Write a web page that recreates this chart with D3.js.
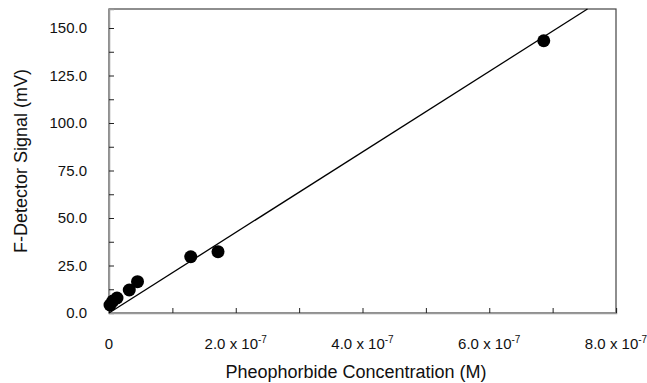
<!DOCTYPE html>
<html><head><meta charset="utf-8">
<script src="https://cdn.jsdelivr.net/npm/d3@7"></script>
<style>body{margin:0;background:#fff}svg{display:block}text{font-family:"Liberation Sans",Arial,sans-serif}</style>
</head><body>
<svg id="c" width="647" height="383"></svg>
<script>
const concX = [0.016e-7, 0.06e-7, 0.126e-7, 0.32e-7, 0.45e-7, 1.29e-7, 1.72e-7, 6.86e-7];
const signalY = [4.2, 6.3, 7.9, 12.1, 16.5, 29.6, 32.3, 143.3];
const fitX = [0, 7.55e-7];
const fitY = [0, 160];
const yTicks = [0, 25, 50, 75, 100, 125, 150];
const yMinor = [12.5, 37.5, 62.5, 87.5, 112.5, 137.5];
const xTicks = [0, 2e-7, 4e-7, 6e-7, 8e-7];
const xTickLabels = ["0", "2.0 x 10", "4.0 x 10", "6.0 x 10", "8.0 x 10"];
const xMinor = [1e-7, 3e-7, 5e-7, 7e-7];

const m = {l:109, t:9, r:31, b:70};
const W = 647, H = 383;
const svg = d3.select("#c");
const x = d3.scaleLinear().domain([0, 8e-7]).range([m.l, W - m.r]);
const y = d3.scaleLinear().domain([0, 160]).range([H - m.b, m.t]);

// frame
svg.append("rect").attr("x", m.l).attr("y", m.t).attr("width", W-m.r-m.l).attr("height", H-m.b-m.t)
  .attr("fill","none").attr("stroke","#444").attr("stroke-width",1.2);

// y axis
const ya = svg.append("g").attr("transform",`translate(${m.l},0)`)
  .call(d3.axisRight(y).tickValues(yTicks.concat(yMinor)).tickSize(5).tickFormat(""));
ya.select(".domain").attr("stroke","#999").attr("stroke-width",1.5);
ya.selectAll(".tick line").attr("stroke","#222");
svg.append("g").selectAll("text").data(yTicks).join("text")
  .attr("x", m.l - 22).attr("y", d => y(d)).attr("dy","0.35em").attr("text-anchor","end")
  .attr("font-size",15).attr("fill","#111").text(d => d3.format(".1f")(d));

// x axis
const xa = svg.append("g").attr("transform",`translate(0,${H-m.b})`)
  .call(d3.axisTop(x).tickValues(xTicks.concat(xMinor)).tickSize(5).tickFormat(""));
xa.select(".domain").attr("stroke","#999").attr("stroke-width",1.5);
xa.selectAll(".tick line").attr("stroke","#222");
const xl = svg.append("g").selectAll("text").data(xTicks).join("text")
  .attr("x", d => x(d)).attr("y", H - m.b + 36).attr("text-anchor","middle")
  .attr("font-size",15).attr("fill","#111");
xl.each(function(d,i){
  const t = d3.select(this);
  t.append("tspan").text(xTickLabels[i]);
  if (i > 0) t.append("tspan").attr("dy",-6).attr("font-size",10).text("-7");
});

// fit line
svg.append("line").attr("x1",x(fitX[0])).attr("y1",y(fitY[0])).attr("x2",x(fitX[1])).attr("y2",y(fitY[1]))
  .attr("stroke","#000").attr("stroke-width",1.3);

// points
svg.append("g").selectAll("circle").data(concX).join("circle")
  .attr("cx", d => x(d)).attr("cy", (d,i) => y(signalY[i])).attr("r", 6.5).attr("fill","#000");

// titles
svg.append("text").attr("x", 356).attr("y", 378).attr("text-anchor","middle")
  .attr("font-size",18).attr("fill","#111").text("Pheophorbide Concentration (M)");
svg.append("text").attr("transform",`translate(27,${(m.t + H - m.b)/2}) rotate(-90)`)
  .attr("text-anchor","middle").attr("font-size",18).attr("fill","#111").text("F-Detector Signal (mV)");
</script>
</body></html>
